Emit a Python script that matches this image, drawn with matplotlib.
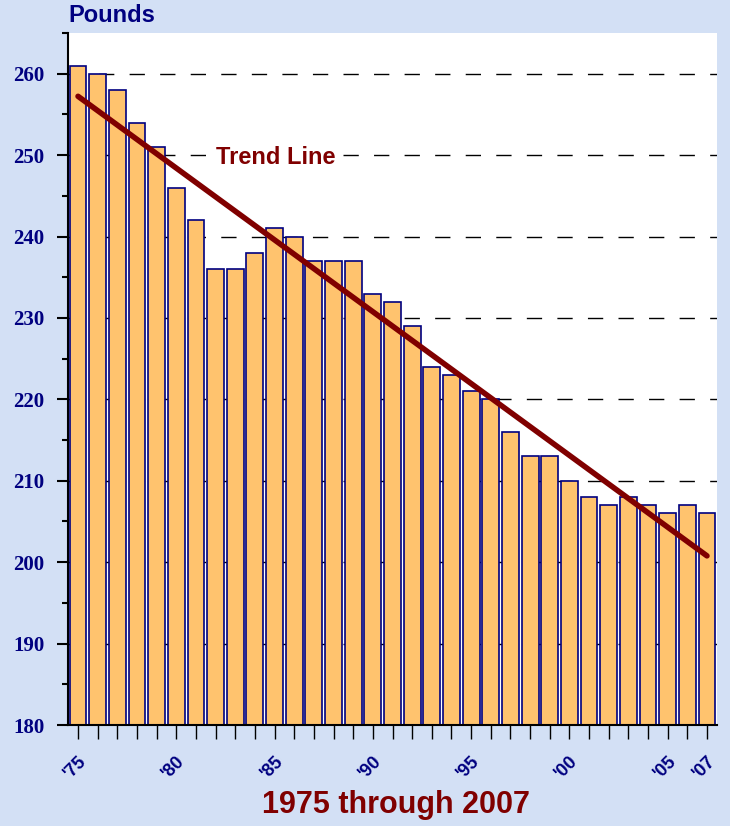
import numpy as np
import matplotlib
matplotlib.use("Agg")
import matplotlib.pyplot as plt
from matplotlib.ticker import MultipleLocator

# Pounds per year, 1975-2007
years = list(range(1975, 2008))
pounds = [261, 260, 258, 254, 251, 246, 242, 236, 236, 238,
          241, 240, 237, 237, 237, 233, 232, 229, 224, 223,
          221, 220, 216, 213, 213, 210, 208, 207, 208, 207,
          206, 207, 206]
label_years = [1975, 1980, 1985, 1990, 1995, 2000, 2005, 2007]

NAVY = "#000080"
DARKRED = "#800000"
BAR = "#FFC36E"
BG = "#D3E0F5"

fig = plt.figure(figsize=(7.3, 8.26), dpi=100, facecolor=BG)
ax = fig.add_axes([68 / 730, 1 - 725 / 826, 649 / 730, 692 / 826])
ax.set_facecolor("white")

ax.bar(years, pounds, width=0.86, color=BAR, edgecolor=NAVY,
       linewidth=1.2, zorder=2)

# trend line (least squares fit)
slope, icpt = np.polyfit(years, pounds, 1)
yrs = np.array([years[0], years[-1]])
ax.plot(yrs, slope * yrs + icpt, color=DARKRED, lw=4, solid_capstyle="round",
        zorder=3)
ax.text(1982.0, 249.7, "Trend Line", color=DARKRED, fontsize=17,
        fontweight="bold", family="Liberation Sans", ha="left", va="center",
        zorder=4, bbox=dict(facecolor="white", edgecolor="none", pad=6))

ax.set_xlim(years[0] - 0.51, years[-1] + 0.51)
ax.set_ylim(180, 265)

# dashed gridlines at every 10 pounds
for v in range(190, 265, 10):
    ax.axhline(v, color="black", lw=1, dashes=(11, 11), zorder=1)

ax.yaxis.set_major_locator(MultipleLocator(10))
ax.yaxis.set_minor_locator(MultipleLocator(5))
ax.tick_params(axis="y", which="major", length=8, width=1.5, pad=9,
               labelsize=15, labelcolor=NAVY)
ax.tick_params(axis="y", which="minor", length=4, width=1.5)
for lab in ax.get_yticklabels():
    lab.set_family("Liberation Serif")
    lab.set_fontweight("bold")

ax.set_xticks(years)
ax.set_xticklabels(["'" + str(y)[2:] if y in label_years else "" for y in years],
                   rotation=45, ha="right", va="top", rotation_mode="anchor",
                   fontsize=13, fontweight="bold", color=NAVY,
                   family="Liberation Sans")
ax.tick_params(axis="x", length=10, width=1, pad=10)

for s in ["top", "right"]:
    ax.spines[s].set_visible(False)
ax.spines["left"].set_linewidth(1.5)
ax.spines["bottom"].set_linewidth(1.5)

fig.text(68 / 730, 1 - 16 / 826, "Pounds", color=NAVY, fontsize=17,
         fontweight="bold", family="Liberation Sans", ha="left", va="center")
fig.text(396 / 730, 1 - 805 / 826, "1975 through 2007", color=DARKRED,
         fontsize=22, fontweight="bold", family="Liberation Sans",
         ha="center", va="center")

fig.savefig("out.png", dpi=100, facecolor=BG)
